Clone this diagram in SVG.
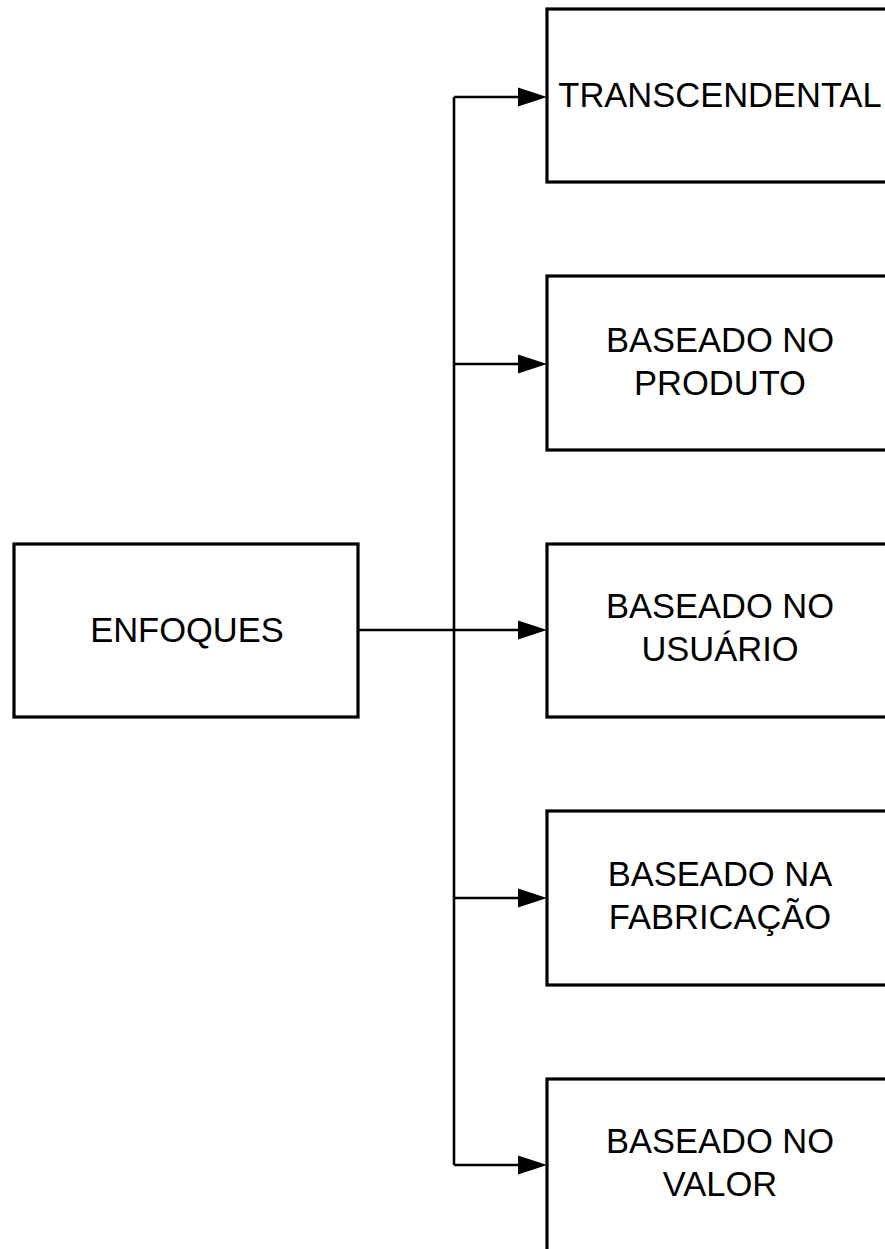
<svg xmlns="http://www.w3.org/2000/svg" width="885" height="1249" viewBox="0 0 885 1249">
<style>
.box{fill:#fff;stroke:#000;stroke-width:3.2;stroke-linejoin:miter}
.lbl{font-family:"Liberation Sans",Arial,sans-serif;font-size:34.5px;fill:#000;text-anchor:middle}
.conn{fill:none;stroke:#000;stroke-width:2.6}
.head{fill:#000;stroke:none}
</style>
<rect width="885" height="1249" fill="#fff"/>
<g id="connectors">
<path class="conn" d="M454,97 V1165"/>
<path class="conn" d="M454,97 H520 M454,364 H520 M358,630 H520 M454,898 H520 M454,1165 H520"/>
<polygon class="head" points="518,87.5 547,97 518,106.5"/>
<polygon class="head" points="518,354.5 547,364 518,373.5"/>
<polygon class="head" points="518,620.5 547,630 518,639.5"/>
<polygon class="head" points="518,888.5 547,898 518,907.5"/>
<polygon class="head" points="518,1155.5 547,1165 518,1174.5"/>
</g>
<g id="enfoques">
<rect class="box" x="14" y="544" width="344" height="173"/>
<text class="lbl" x="187" y="642">ENFOQUES</text>
</g>
<g id="transcendental">
<rect class="box" x="547" y="9" width="344" height="173"/>
<text class="lbl" x="720" y="107">TRANSCENDENTAL</text>
</g>
<g id="produto">
<rect class="box" x="547" y="276" width="344" height="174"/>
<text class="lbl" x="720" y="352">BASEADO NO</text>
<text class="lbl" x="720" y="395">PRODUTO</text>
</g>
<g id="usuario">
<rect class="box" x="547" y="544" width="344" height="173"/>
<text class="lbl" x="720" y="618">BASEADO NO</text>
<text class="lbl" x="720" y="661">USUÁRIO</text>
</g>
<g id="fabricacao">
<rect class="box" x="547" y="811" width="344" height="174"/>
<text class="lbl" x="720" y="886">BASEADO NA</text>
<text class="lbl" x="720" y="929">FABRICAÇÃO</text>
</g>
<g id="valor">
<rect class="box" x="547" y="1079" width="344" height="174"/>
<text class="lbl" x="720" y="1153">BASEADO NO</text>
<text class="lbl" x="720" y="1196">VALOR</text>
</g>
</svg>
